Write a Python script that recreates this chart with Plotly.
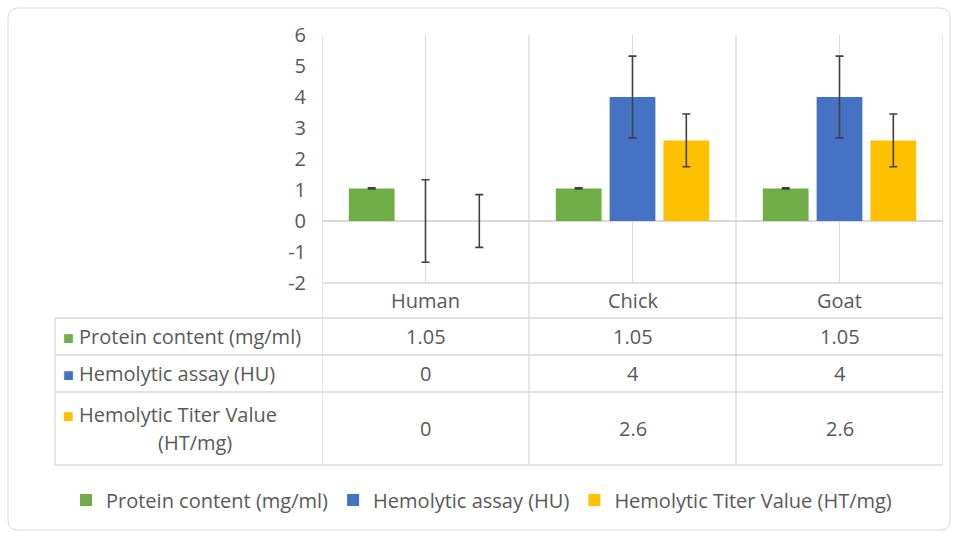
import plotly.graph_objects as go

# ---------------- data ----------------
categories = ["Human", "Chick", "Goat"]
series_names = ["Protein content (mg/ml)", "Hemolytic assay (HU)", "Hemolytic Titer Value (HT/mg)"]
protein = [1.05, 1.05, 1.05]
hemolytic_assay = [0, 4, 4]
titer_value = [0, 2.6, 2.6]
protein_err = [0.02, 0.02, 0.02]
assay_err = [1.33, 1.32, 1.32]
titer_err = [0.85, 0.85, 0.85]
y_ticks = [-2, -1, 0, 1, 2, 3, 4, 5, 6]
colors = ["#70AD47", "#4472C4", "#FFC000"]

series_values = [protein, hemolytic_assay, titer_value]
series_errors = [protein_err, assay_err, titer_err]

# ---------------- layout geometry (pixels) ----------------
W, H = 958, 533
L, R, T, B = 322, 943, 35, 283   # plot box
TABLE_LEFT = 55
ROW_LINES = [318, 355, 392, 465]  # horizontal table lines below the axis
LABEL_X = 61
FONT = "Open Sans"
TXT = "#595959"
GRID = "#D9D9D9"
fs = 20


def px(x):
    return (x - L) / (R - L)


def py(y):
    return (B - y) / (B - T)


fig = go.Figure()
for name, vals, errs, col in zip(series_names, series_values, series_errors, colors):
    fig.add_trace(go.Bar(
        name=name, x=categories, y=vals, marker=dict(color=col, line=dict(width=0)),
        error_y=dict(type="data", array=errs, visible=True, color="#404040", thickness=1.6, width=4),
    ))

shapes = []
# outer rounded border
x0, x1, y0, y1 = px(8), px(950), py(530), py(8)
rx, ry = 10 / (R - L), 10 / (B - T)
shapes.append(dict(
    type="path", xref="paper", yref="paper",
    path=(f"M{x0+rx},{y0} L{x1-rx},{y0} Q{x1},{y0} {x1},{y0+ry} L{x1},{y1-ry} Q{x1},{y1} {x1-rx},{y1} "
          f"L{x0+rx},{y1} Q{x0},{y1} {x0},{y1-ry} L{x0},{y0+ry} Q{x0},{y0} {x0+rx},{y0} Z"),
    line=dict(color="#D9D9D9", width=1), layer="below"))
# vertical category boundaries continuing through table
for i in range(len(categories) + 1):
    shapes.append(dict(type="line", xref="x", yref="paper", x0=i - 0.5, x1=i - 0.5,
                       y0=py(ROW_LINES[-1]), y1=1, line=dict(color=GRID, width=1.3)))
# table horizontal lines
shapes.append(dict(type="line", xref="paper", yref="paper", x0=0, x1=1, y0=0, y1=0,
                   line=dict(color=GRID, width=1.3)))
for yl in ROW_LINES:
    shapes.append(dict(type="line", xref="paper", yref="paper", x0=px(TABLE_LEFT), x1=1,
                       y0=py(yl), y1=py(yl), line=dict(color=GRID, width=1.3)))
shapes.append(dict(type="line", xref="paper", yref="paper", x0=px(TABLE_LEFT), x1=px(TABLE_LEFT),
                   y0=py(ROW_LINES[-1]), y1=py(ROW_LINES[0]), line=dict(color=GRID, width=1.3)))

annotations = []
# header row: category names
for c in categories:
    annotations.append(dict(xref="x", yref="paper", x=c, y=py(300), text=c, showarrow=False,
                            font=dict(family=FONT, size=fs, color=TXT), yanchor="middle"))
# row centers
row_tops = [B] + ROW_LINES
row_centers = [(row_tops[i + 1] + row_tops[i + 2]) / 2 for i in range(3)]
for k, (name, vals, col) in enumerate(zip(series_names, series_values, colors)):
    cy = row_centers[k]
    for c, v in zip(categories, vals):
        annotations.append(dict(xref="x", yref="paper", x=c, y=py(cy), text=f"{v:g}", showarrow=False,
                                font=dict(family=FONT, size=fs, color=TXT), yanchor="middle"))
    sq = f"<span style='color:{col};font-size:18px'>■</span> "
    if len(name) > 25:
        head, tail = name.rsplit(" (", 1)
        annotations.append(dict(xref="paper", yref="paper", x=px(LABEL_X), y=py(cy - 14),
                                text=sq + head, showarrow=False, yanchor="middle", xanchor="left",
                                font=dict(family=FONT, size=fs, color=TXT)))
        annotations.append(dict(xref="paper", yref="paper", x=px(195), y=py(cy + 14),
                                text="(" + tail, showarrow=False, yanchor="middle", xanchor="center",
                                font=dict(family=FONT, size=fs, color=TXT)))
    else:
        annotations.append(dict(xref="paper", yref="paper", x=px(LABEL_X), y=py(cy),
                                text=sq + name, showarrow=False, yanchor="middle", xanchor="left",
                                font=dict(family=FONT, size=fs, color=TXT)))

fig.update_layout(
    width=W, height=H,
    margin=dict(l=L, r=W - R, t=T, b=H - B, autoexpand=False),
    paper_bgcolor="white", plot_bgcolor="white",
    barmode="group", bargap=0.22, bargroupgap=0.15,
    font=dict(family=FONT, size=fs, color=TXT),
    xaxis=dict(type="category", range=[-0.5, len(categories) - 0.5], showgrid=True, gridcolor=GRID,
               gridwidth=1.3, showticklabels=False, showline=False, zeroline=False, fixedrange=True),
    yaxis=dict(range=[y_ticks[0], y_ticks[-1]], tickvals=y_ticks, ticktext=[str(v) for v in y_ticks],
               showgrid=False, zeroline=True,
               zerolinecolor=GRID, zerolinewidth=1.5, showline=False, ticks="",
               ticklabelstandoff=15, tickfont=dict(family=FONT, size=fs, color=TXT)),
    legend=dict(orientation="h", x=px(66), xanchor="left", y=py(500), yanchor="middle",
                font=dict(family=FONT, size=fs, color=TXT), traceorder="normal",
                itemwidth=30),
    shapes=shapes, annotations=annotations,
)

fig.write_html("out.html", config={"displayModeBar": False},
               post_script="document.body.style.margin='0';document.body.style.padding='0';")
